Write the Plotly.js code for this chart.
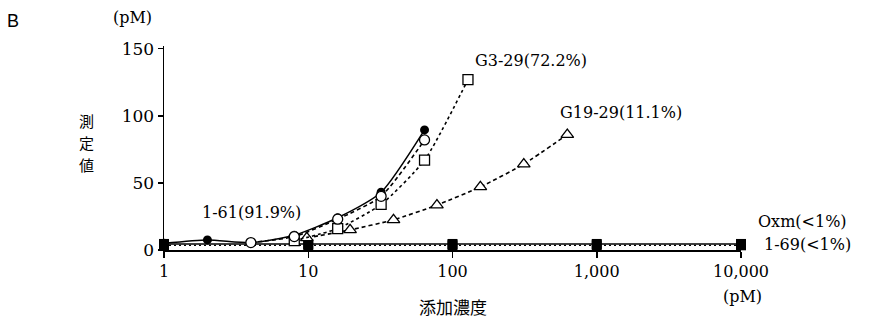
<!DOCTYPE html>
<html>
<head>
<meta charset="utf-8">
<script src="https://cdn.plot.ly/plotly-3.0.1.min.js"></script>
<style>html,body{margin:0;padding:0;background:#fff;}#chart{width:870px;height:324px;}</style>
</head>
<body>
<div id="chart"></div>
<script>
// Data
const concCircle = [1, 2, 4, 8, 16, 32, 64];
const val161 = [5, 7.5, 5.5, 11, 24, 43, 89.5];
const concOpen = [4, 8, 16, 32, 64];
const valOpen = [5.5, 10, 23, 40, 82];
const concG329 = [8, 16, 32, 64, 128];
const valG329 = [7, 16, 34, 67, 127];
const concG1929 = [9.77, 19.5, 39, 78, 156, 312, 625];
const valG1929 = [9, 15, 22.5, 33.5, 47, 64, 86];
const concOxm = [1, 10, 100, 1000, 10000];
const valOxm = [4.5, 4.5, 4.5, 4.5, 4.5];
const val169 = [3.5, 3.5, 3.5, 3.5, 3.5];
const xTickVals = [1, 10, 100, 1000, 10000];
const xTickText = ['1', '10', '100', '1,000', '10,000'];
const yTickVals = [0, 50, 100, 150];
const yTitleChars = ['測', '定', '値'];

const serif = 'DejaVu Serif, Liberation Serif, serif';
const cjk = 'Noto Sans CJK JP, Noto Sans CJK SC, sans-serif';
const blk = '#000';

const traces = [
  {x: concOxm, y: val169, mode: 'lines+markers', line: {color: blk, width: 1.3, dash: '2px,3px'},
   marker: {symbol: 'square', size: 10, color: blk}, cliponaxis: false},
  {x: concOxm, y: valOxm, mode: 'lines+markers', line: {color: blk, width: 1.5},
   marker: {symbol: 'square', size: 10, color: blk}, cliponaxis: false},
  {x: concG1929, y: valG1929, mode: 'lines+markers', line: {color: blk, width: 1.6, dash: '4px,3px', shape: 'spline', smoothing: 0.6},
   marker: {symbol: 'triangle-up', size: 11, color: '#fff', line: {color: blk, width: 1.3}}, cliponaxis: false},
  {x: concG329, y: valG329, mode: 'lines+markers', line: {color: blk, width: 1.6, dash: '3px,3px', shape: 'spline', smoothing: 0.6},
   marker: {symbol: 'square', size: 10, color: '#fff', line: {color: blk, width: 1.3}}, cliponaxis: false},
  {x: concCircle, y: val161, mode: 'lines+markers', line: {color: blk, width: 1.5, shape: 'spline', smoothing: 0.6},
   marker: {symbol: 'circle', size: 9, color: blk}, cliponaxis: false},
  {x: concOpen, y: valOpen, mode: 'lines+markers', line: {color: blk, width: 1.6, dash: '4px,3px', shape: 'spline', smoothing: 0.6},
   marker: {symbol: 'circle', size: 10, color: '#fff', line: {color: blk, width: 1.3}}, cliponaxis: false}
];

function ann(text, x, y, size, family, extra) {
  return Object.assign({text: text, xref: 'paper', yref: 'paper', x: x, y: y,
    xanchor: 'center', yanchor: 'middle', showarrow: false,
    font: {family: family, size: size, color: blk}}, extra || {});
}

const annotations = [
  ann('G3-29(72.2%)', 0.636, 0.931, 16, serif),
  ann('G19-29(11.1%)', 0.792, 0.672, 16, serif),
  ann('1-61(91.9%)', 0.151, 0.186, 16, serif),
  ann('Oxm(&lt;1%)', 1.107, 0.142, 16, serif),
  ann('1-69(&lt;1%)', 1.116, 0.029, 16, serif),
  ann('(pM)', -0.054, 1.142, 16, serif),
  ann('(pM)', 1.003, -0.230, 16, serif),
  ann('添加濃度', 0.501, -0.279, 17, cjk),
  ann('B', -0.262, 1.124, 18, 'Liberation Sans, Arial, sans-serif')
];
yTitleChars.forEach(function (c, i) {
  annotations.push(ann(c, -0.135, (250 - (120 + i * 22)) / 204, 15, cjk, {borderpad: 0}));
});

const layout = {
  width: 870, height: 324,
  margin: {l: 164, r: 129, t: 46, b: 74},
  paper_bgcolor: '#fff', plot_bgcolor: '#fff',
  showlegend: false,
  xaxis: {type: 'log', range: [0, 4], tickvals: xTickVals, ticktext: xTickText,
    ticks: 'outside', ticklen: 6, tickwidth: 1.5, tickcolor: blk,
    showline: true, linecolor: blk, linewidth: 1.5, showgrid: false, zeroline: false,
    tickfont: {family: serif, size: 16, color: blk}},
  yaxis: {range: [0, 152], tickvals: yTickVals,
    ticks: 'outside', ticklen: 5, tickwidth: 1.5, tickcolor: blk,
    showline: true, linecolor: blk, linewidth: 1.5, showgrid: false, zeroline: false,
    tickfont: {family: serif, size: 17, color: blk}},
  annotations: annotations
};

Plotly.newPlot('chart', traces, layout, {staticPlot: true, displayModeBar: false});
</script>
</body>
</html>
